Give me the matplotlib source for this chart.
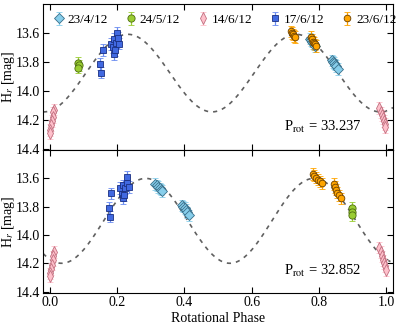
import numpy as np
import matplotlib
matplotlib.use("Agg")
import matplotlib.pyplot as plt

plt.rcParams['font.family'] = ['Liberation Serif', 'DejaVu Serif']
plt.rcParams['mathtext.fontset'] = 'stix'
plt.rcParams['xtick.direction'] = 'in'
plt.rcParams['ytick.direction'] = 'in'

labels = ['23/4/12', '24/5/12', '14/6/12', '17/6/12', '23/6/12']

# top panel (P = 33.237)
top_ph_2304 = [0.772, 0.775, 0.778, 0.781, 0.784, 0.787, 0.840, 0.843, 0.846, 0.849, 0.852, 0.856]
top_mag_2304 = [13.64, 13.65, 13.66, 13.67, 13.68, 13.69, 13.79, 13.80, 13.81, 13.82, 13.83, 13.85]
top_ph_2405 = [0.084, 0.086, 0.085]
top_mag_2405 = [13.805, 13.825, 13.84]
top_ph_1406 = [0.012, 0.010, 0.008, 0.006, 0.004, 0.002, 0.0,
               0.979, 0.983, 0.986, 0.989, 0.992, 0.995, 0.997]
top_mag_1406 = [14.13, 14.15, 14.18, 14.21, 14.24, 14.27, 14.29,
                14.12, 14.15, 14.17, 14.19, 14.21, 14.23, 14.25]
top_ph_1706 = [0.149, 0.152, 0.159, 0.183, 0.188, 0.190, 0.192, 0.194, 0.196, 0.200, 0.202, 0.206]
top_mag_1706 = [13.816, 13.874, 13.717, 13.678, 13.70, 13.643, 13.747, 13.72, 13.667, 13.598, 13.637, 13.674]
top_ph_2306 = [0.718, 0.720, 0.722, 0.725, 0.728, 0.777, 0.780, 0.783, 0.786, 0.789, 0.792]
top_mag_2306 = [13.59, 13.60, 13.61, 13.62, 13.63, 13.63, 13.645, 13.66, 13.67, 13.68, 13.69]

# bottom panel (P = 32.852)
bot_ph_2304 = [0.314, 0.318, 0.322, 0.326, 0.330, 0.334, 0.393, 0.397, 0.401, 0.405, 0.409, 0.414]
bot_mag_2304 = [13.64, 13.65, 13.66, 13.67, 13.68, 13.69, 13.79, 13.80, 13.81, 13.82, 13.84, 13.86]
bot_ph_2405 = [0.897, 0.899, 0.898]
bot_mag_2405 = [13.81, 13.835, 13.86]
bot_ph_1406 = [0.012, 0.010, 0.008, 0.006, 0.004, 0.002, 0.0,
               0.979, 0.983, 0.986, 0.989, 0.992, 0.995, 0.998]
bot_mag_1406 = [14.12, 14.15, 14.18, 14.21, 14.24, 14.27, 14.29,
                14.09, 14.12, 14.15, 14.18, 14.20, 14.22, 14.25]
bot_ph_1706 = [0.175, 0.178, 0.183, 0.210, 0.215, 0.217, 0.218, 0.219, 0.222, 0.228, 0.230, 0.234]
bot_mag_1706 = [13.81, 13.87, 13.706, 13.667, 13.707, 13.65, 13.74, 13.72, 13.67, 13.59, 13.63, 13.66]
bot_ph_2306 = [0.781, 0.786, 0.791, 0.796, 0.802, 0.808, 0.846, 0.849, 0.852, 0.855, 0.859, 0.864]
bot_mag_2306 = [13.57, 13.58, 13.595, 13.61, 13.62, 13.635, 13.64, 13.66, 13.68, 13.70, 13.72, 13.74]

mag_err = 0.04

# double-peaked light-curve model: mean, amplitude, phase of maximum
top_model = (13.878, 0.268, 0.232)
bot_model = (13.90, 0.30, 0.285)
periods = ['33.237', '32.852']

styles = [
    dict(marker='D', ms=4.8, mfc='#87CEEB', mec='#3a6f8a', ecolor='#87CEEB'),
    dict(marker='o', ms=5.2, mfc='#9ACD32', mec='#4d6b10', ecolor='#9ACD32'),
    dict(marker='d', ms=5.8, mfc='#FFC0CB', mec='#c07080', ecolor='#FFC0CB'),
    dict(marker='s', ms=4.8, mfc='#4169E1', mec='#1a2f80', ecolor='#6a8cf0'),
    dict(marker='o', ms=4.8, mfc='#FFA500', mec='#6b4000', ecolor='#FFA500'),
]

fig = plt.figure(figsize=(3.99, 3.27), dpi=100)
ax1 = fig.add_axes([0.108, 0.541, 0.877, 0.447])
ax2 = fig.add_axes([0.108, 0.104, 0.877, 0.437])

panels = [
    (ax1, [(top_ph_2304, top_mag_2304), (top_ph_2405, top_mag_2405), (top_ph_1406, top_mag_1406),
           (top_ph_1706, top_mag_1706), (top_ph_2306, top_mag_2306)], top_model, periods[0]),
    (ax2, [(bot_ph_2304, bot_mag_2304), (bot_ph_2405, bot_mag_2405), (bot_ph_1406, bot_mag_1406),
           (bot_ph_1706, bot_mag_1706), (bot_ph_2306, bot_mag_2306)], bot_model, periods[1]),
]

grid = np.linspace(-0.02, 1.02, 400)
for ax, series, model, per in panels:
    mean, amp, pmax = model
    ax.plot(grid, mean - amp * np.cos(4 * np.pi * (grid - pmax)), '--', color='#606060', lw=1.2,
            dashes=(2.5, 3), zorder=1)
    handles = []
    for (ph, mag), st, lab in zip(series, styles, labels):
        h = ax.errorbar(ph, mag, yerr=mag_err, fmt=st['marker'], ms=st['ms'], mfc=st['mfc'],
                        mec=st['mec'], mew=0.6, ecolor=st['ecolor'], elinewidth=0.9, capsize=2,
                        capthick=0.9, label=lab, zorder=3)
        handles.append(h)
    ax.set_xlim(-0.02, 1.02)
    ax.set_ylim(14.41, 13.4)
    ax.set_yticks([13.6, 13.8, 14.0, 14.2, 14.4])
    ax.set_xticks([0.0, 0.2, 0.4, 0.6, 0.8, 1.0])
    ax.tick_params(top=True, right=True, labelsize=10, length=4, pad=2)
    ax.set_ylabel('H$_r$ [mag]', fontsize=10)
    ax.yaxis.set_label_coords(-0.074, 0.5)
    ax.text(0.91, 0.155, r'P$_{\rm rot}$ = ' + per, transform=ax.transAxes, ha='right',
            va='center', fontsize=10.5)

ax1.tick_params(labelbottom=False)
ax1.legend(handles=handles, loc='upper center', bbox_to_anchor=(0.52, 1.0), ncol=5,
           frameon=False, fontsize=9.5, handlelength=0.8, handletextpad=0.3,
           columnspacing=1.3, borderaxespad=0.35)
ax2.set_xlabel('Rotational Phase', fontsize=10, labelpad=2)
ax2.set_xticklabels(['0.0', '0.2', '0.4', '0.6', '0.8', '1.0'])

fig.savefig('out.png', dpi=100)
